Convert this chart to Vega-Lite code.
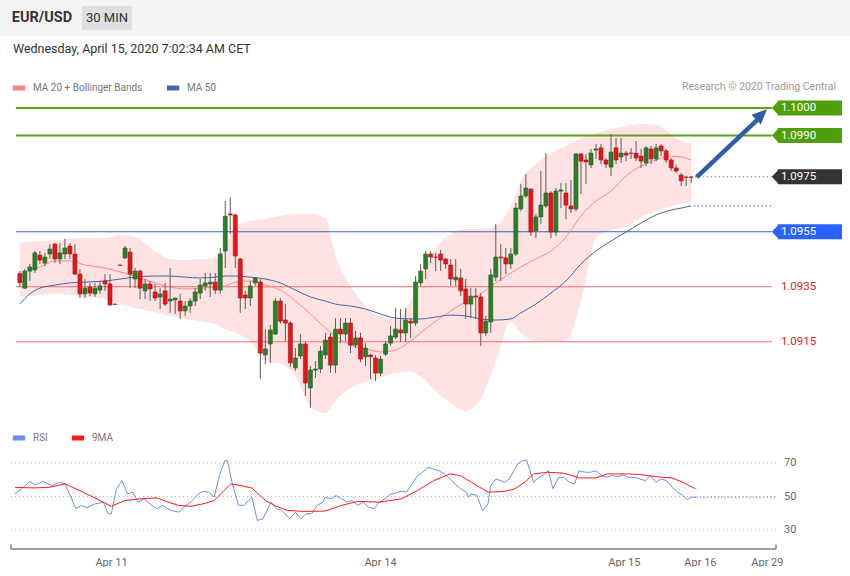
{
"$schema": "https://vega.github.io/schema/vega-lite/v6.json",
"padding": 0,
"autosize": {"type": "pad"},
"background": "#ffffff",
"spacing": 6,
"config": {"font": "Roboto", "view": {"stroke": null}, "title": {"font": "Roboto"}},
"resolve": {"scale": {"color": "independent", "x": "independent", "y": "independent"}, "legend": {"color": "independent"}},
"datasets": {
"candles": [
{"i":0,"o":1.09398,"h":1.09407,"l":1.09349,"c":1.09365},
{"i":1,"o":1.09345,"h":1.09415,"l":1.09342,"c":1.09407},
{"i":2,"o":1.09407,"h":1.09433,"l":1.09371,"c":1.09422},
{"i":3,"o":1.09411,"h":1.0948,"l":1.094,"c":1.09473},
{"i":4,"o":1.09465,"h":1.0948,"l":1.09433,"c":1.09447},
{"i":5,"o":1.09436,"h":1.09473,"l":1.09425,"c":1.09458},
{"i":6,"o":1.09469,"h":1.09505,"l":1.09451,"c":1.09487},
{"i":7,"o":1.09505,"h":1.09509,"l":1.09436,"c":1.09451},
{"i":8,"o":1.09451,"h":1.09509,"l":1.09433,"c":1.09473},
{"i":9,"o":1.09469,"h":1.09524,"l":1.09451,"c":1.09491},
{"i":10,"o":1.09498,"h":1.09509,"l":1.09451,"c":1.09469},
{"i":11,"o":1.09469,"h":1.09505,"l":1.09393,"c":1.09396},
{"i":12,"o":1.09396,"h":1.09415,"l":1.09309,"c":1.09324},
{"i":13,"o":1.09324,"h":1.09378,"l":1.09309,"c":1.09345},
{"i":14,"o":1.09349,"h":1.09364,"l":1.09316,"c":1.09327},
{"i":15,"o":1.09324,"h":1.09364,"l":1.09313,"c":1.09345},
{"i":16,"o":1.09338,"h":1.09371,"l":1.09324,"c":1.09353},
{"i":17,"o":1.09371,"h":1.09396,"l":1.09335,"c":1.0936},
{"i":18,"o":1.0936,"h":1.09396,"l":1.0928,"c":1.09284},
{"i":19,"o":1.09287,"h":1.09288,"l":1.09285,"c":1.09286},
{"i":20,"o":1.09429,"h":1.0943,"l":1.09427,"c":1.09428},
{"i":21,"o":1.09455,"h":1.09498,"l":1.09451,"c":1.09491},
{"i":22,"o":1.09476,"h":1.09491,"l":1.09345,"c":1.09396},
{"i":23,"o":1.09378,"h":1.09418,"l":1.09345,"c":1.09407},
{"i":24,"o":1.09407,"h":1.09411,"l":1.09305,"c":1.09345},
{"i":25,"o":1.09335,"h":1.09378,"l":1.09305,"c":1.0936},
{"i":26,"o":1.0936,"h":1.09371,"l":1.09298,"c":1.09342},
{"i":27,"o":1.09331,"h":1.0936,"l":1.09298,"c":1.09309},
{"i":28,"o":1.09313,"h":1.09345,"l":1.09269,"c":1.09324},
{"i":29,"o":1.09335,"h":1.09364,"l":1.0928,"c":1.09287},
{"i":30,"o":1.09298,"h":1.09418,"l":1.09255,"c":1.09305},
{"i":31,"o":1.09302,"h":1.0931,"l":1.09251,"c":1.09309},
{"i":32,"o":1.09298,"h":1.09324,"l":1.09233,"c":1.09262},
{"i":33,"o":1.09262,"h":1.09298,"l":1.09244,"c":1.0928},
{"i":34,"o":1.0928,"h":1.09309,"l":1.09255,"c":1.09298},
{"i":35,"o":1.09298,"h":1.09345,"l":1.0928,"c":1.09331},
{"i":36,"o":1.09327,"h":1.09378,"l":1.09305,"c":1.09356},
{"i":37,"o":1.09353,"h":1.094,"l":1.09335,"c":1.09364},
{"i":38,"o":1.0936,"h":1.094,"l":1.09313,"c":1.09367},
{"i":39,"o":1.09367,"h":1.094,"l":1.09324,"c":1.09338},
{"i":40,"o":1.09338,"h":1.09491,"l":1.09324,"c":1.09469},
{"i":41,"o":1.0948,"h":1.09662,"l":1.09418,"c":1.09607},
{"i":42,"o":1.09615,"h":1.09676,"l":1.09542,"c":1.09611},
{"i":43,"o":1.09611,"h":1.09615,"l":1.09418,"c":1.09462},
{"i":44,"o":1.09451,"h":1.09455,"l":1.09255,"c":1.09309},
{"i":45,"o":1.0932,"h":1.09335,"l":1.09269,"c":1.09309},
{"i":46,"o":1.09309,"h":1.09371,"l":1.0928,"c":1.09353},
{"i":47,"o":1.09364,"h":1.09385,"l":1.09353,"c":1.09382},
{"i":48,"o":1.09367,"h":1.09378,"l":1.09015,"c":1.09109},
{"i":49,"o":1.09102,"h":1.09196,"l":1.09069,"c":1.09124},
{"i":50,"o":1.09142,"h":1.09211,"l":1.09073,"c":1.09193},
{"i":51,"o":1.09178,"h":1.09309,"l":1.09175,"c":1.09298},
{"i":52,"o":1.09298,"h":1.09309,"l":1.09215,"c":1.09225},
{"i":53,"o":1.09229,"h":1.09287,"l":1.09153,"c":1.09218},
{"i":54,"o":1.09218,"h":1.09225,"l":1.09058,"c":1.09073},
{"i":55,"o":1.09055,"h":1.09127,"l":1.09044,"c":1.09091},
{"i":56,"o":1.09098,"h":1.09178,"l":1.09087,"c":1.09142},
{"i":57,"o":1.09142,"h":1.09149,"l":1.08953,"c":1.09},
{"i":58,"o":1.08982,"h":1.09062,"l":1.08909,"c":1.09047},
{"i":59,"o":1.09047,"h":1.0908,"l":1.09018,"c":1.09051},
{"i":60,"o":1.09051,"h":1.09135,"l":1.09036,"c":1.09116},
{"i":61,"o":1.09102,"h":1.09182,"l":1.09087,"c":1.09156},
{"i":62,"o":1.09167,"h":1.09182,"l":1.09036,"c":1.09065},
{"i":63,"o":1.09065,"h":1.09236,"l":1.09036,"c":1.09196},
{"i":64,"o":1.09196,"h":1.09236,"l":1.09145,"c":1.09178},
{"i":65,"o":1.09178,"h":1.09236,"l":1.09153,"c":1.09218},
{"i":66,"o":1.09218,"h":1.09236,"l":1.09109,"c":1.09138},
{"i":67,"o":1.09138,"h":1.09189,"l":1.09127,"c":1.09164},
{"i":68,"o":1.09164,"h":1.09182,"l":1.09076,"c":1.09087},
{"i":69,"o":1.09095,"h":1.09145,"l":1.09062,"c":1.09127},
{"i":70,"o":1.09102,"h":1.09105,"l":1.09015,"c":1.09095},
{"i":71,"o":1.09091,"h":1.09102,"l":1.09007,"c":1.09036},
{"i":72,"o":1.09036,"h":1.09098,"l":1.09025,"c":1.09087},
{"i":73,"o":1.09105,"h":1.09153,"l":1.09098,"c":1.09142},
{"i":74,"o":1.09145,"h":1.09207,"l":1.09135,"c":1.09171},
{"i":75,"o":1.09167,"h":1.09273,"l":1.0916,"c":1.09196},
{"i":76,"o":1.09193,"h":1.09269,"l":1.09149,"c":1.09182},
{"i":77,"o":1.09182,"h":1.09273,"l":1.09149,"c":1.09229},
{"i":78,"o":1.09225,"h":1.09236,"l":1.09164,"c":1.09218},
{"i":79,"o":1.09218,"h":1.09389,"l":1.09207,"c":1.09367},
{"i":80,"o":1.09364,"h":1.09433,"l":1.09353,"c":1.09407},
{"i":81,"o":1.09415,"h":1.0948,"l":1.09378,"c":1.09469},
{"i":82,"o":1.09469,"h":1.0948,"l":1.09436,"c":1.09458},
{"i":83,"o":1.09458,"h":1.09473,"l":1.09407,"c":1.09457},
{"i":84,"o":1.09469,"h":1.09484,"l":1.09407,"c":1.09447},
{"i":85,"o":1.09451,"h":1.09455,"l":1.09415,"c":1.09433},
{"i":86,"o":1.09429,"h":1.09451,"l":1.09353,"c":1.09378},
{"i":87,"o":1.09375,"h":1.09451,"l":1.09353,"c":1.09385},
{"i":88,"o":1.09382,"h":1.09415,"l":1.09316,"c":1.09335},
{"i":89,"o":1.09342,"h":1.09378,"l":1.09233,"c":1.09287},
{"i":90,"o":1.09287,"h":1.09345,"l":1.09236,"c":1.09316},
{"i":91,"o":1.09316,"h":1.09345,"l":1.09233,"c":1.09313},
{"i":92,"o":1.09313,"h":1.09327,"l":1.09135,"c":1.09182},
{"i":93,"o":1.09182,"h":1.09244,"l":1.09171,"c":1.09225},
{"i":94,"o":1.09222,"h":1.09415,"l":1.09182,"c":1.09393},
{"i":95,"o":1.09385,"h":1.09578,"l":1.09371,"c":1.09458},
{"i":96,"o":1.09458,"h":1.09505,"l":1.09371,"c":1.09455},
{"i":97,"o":1.09455,"h":1.09491,"l":1.09396,"c":1.09433},
{"i":98,"o":1.09433,"h":1.09491,"l":1.09415,"c":1.09469},
{"i":99,"o":1.09469,"h":1.09655,"l":1.09462,"c":1.09636},
{"i":100,"o":1.09633,"h":1.09724,"l":1.09625,"c":1.0968},
{"i":101,"o":1.0968,"h":1.0976,"l":1.09673,"c":1.09709},
{"i":102,"o":1.09705,"h":1.09709,"l":1.09535,"c":1.09549},
{"i":103,"o":1.09553,"h":1.09615,"l":1.09527,"c":1.09604},
{"i":104,"o":1.09604,"h":1.09771,"l":1.09578,"c":1.09647},
{"i":105,"o":1.09644,"h":1.09836,"l":1.09636,"c":1.09691},
{"i":106,"o":1.09691,"h":1.09698,"l":1.09527,"c":1.09549},
{"i":107,"o":1.09549,"h":1.09709,"l":1.09535,"c":1.09698},
{"i":108,"o":1.09698,"h":1.09727,"l":1.09636,"c":1.09702},
{"i":109,"o":1.09691,"h":1.09727,"l":1.09596,"c":1.09647},
{"i":110,"o":1.09644,"h":1.09738,"l":1.09618,"c":1.09633},
{"i":111,"o":1.09633,"h":1.09836,"l":1.09625,"c":1.09833},
{"i":112,"o":1.09833,"h":1.09836,"l":1.09687,"c":1.09807},
{"i":113,"o":1.09811,"h":1.09833,"l":1.09724,"c":1.09804},
{"i":114,"o":1.09793,"h":1.09851,"l":1.09782,"c":1.09836},
{"i":115,"o":1.09847,"h":1.09869,"l":1.09815,"c":1.09851},
{"i":116,"o":1.09855,"h":1.09869,"l":1.09796,"c":1.09811},
{"i":117,"o":1.09811,"h":1.09818,"l":1.09782,"c":1.09796},
{"i":118,"o":1.09785,"h":1.09905,"l":1.09753,"c":1.0984},
{"i":119,"o":1.09855,"h":1.09891,"l":1.09796,"c":1.09811},
{"i":120,"o":1.09822,"h":1.09891,"l":1.098,"c":1.09836},
{"i":121,"o":1.09836,"h":1.09844,"l":1.09807,"c":1.09829},
{"i":122,"o":1.09836,"h":1.09855,"l":1.09815,"c":1.09835},
{"i":123,"o":1.09836,"h":1.0988,"l":1.09807,"c":1.09818},
{"i":124,"o":1.09825,"h":1.09851,"l":1.09782,"c":1.09807},
{"i":125,"o":1.098,"h":1.09862,"l":1.09789,"c":1.09855},
{"i":126,"o":1.09851,"h":1.09862,"l":1.09796,"c":1.09815},
{"i":127,"o":1.09815,"h":1.09869,"l":1.09807,"c":1.09855},
{"i":128,"o":1.09862,"h":1.09869,"l":1.09825,"c":1.09844},
{"i":129,"o":1.09844,"h":1.09851,"l":1.098,"c":1.09811},
{"i":130,"o":1.09811,"h":1.09818,"l":1.09771,"c":1.09782},
{"i":131,"o":1.09782,"h":1.09793,"l":1.09764,"c":1.09771},
{"i":132,"o":1.09756,"h":1.09764,"l":1.09716,"c":1.09735},
{"i":133,"o":1.09749,"h":1.09753,"l":1.09716,"c":1.09748},
{"i":134,"o":1.09749,"h":1.09753,"l":1.09727,"c":1.09748}
],
"ind": [
{"i":0,"bbu":1.09509,"bbl":1.09316,"ma20":null,"ma50":1.09287},
{"i":2,"bbu":1.09513,"bbl":1.09316,"ma20":1.09415,"ma50":1.09324},
{"i":4,"bbu":1.09516,"bbl":1.0932,"ma20":1.09422,"ma50":1.09345},
{"i":7,"bbu":1.0952,"bbl":1.09324,"ma20":1.09444,"ma50":1.09356},
{"i":10,"bbu":1.09524,"bbl":1.0932,"ma20":1.09444,"ma50":1.09364},
{"i":13,"bbu":1.09527,"bbl":1.09313,"ma20":1.09429,"ma50":1.09367},
{"i":17,"bbu":1.09527,"bbl":1.09305,"ma20":1.09418,"ma50":1.09371},
{"i":20,"bbu":1.09538,"bbl":1.09287,"ma20":1.09404,"ma50":1.09378},
{"i":23,"bbu":1.09531,"bbl":1.09273,"ma20":1.09389,"ma50":1.09385},
{"i":27,"bbu":1.0948,"bbl":1.09258,"ma20":1.09364,"ma50":1.09389},
{"i":30,"bbu":1.09451,"bbl":1.09244,"ma20":1.09349,"ma50":1.09389},
{"i":33,"bbu":1.09447,"bbl":1.09233,"ma20":1.09342,"ma50":1.09385},
{"i":36,"bbu":1.09451,"bbl":1.09225,"ma20":1.09345,"ma50":1.09382},
{"i":39,"bbu":1.09455,"bbl":1.09215,"ma20":1.09349,"ma50":1.09385},
{"i":41,"bbu":1.09498,"bbl":1.09196,"ma20":1.09353,"ma50":1.09389},
{"i":43,"bbu":1.09571,"bbl":1.09182,"ma20":1.09367,"ma50":1.09389},
{"i":46,"bbu":1.09589,"bbl":1.09153,"ma20":1.09371,"ma50":1.09385},
{"i":49,"bbu":1.09596,"bbl":1.0908,"ma20":1.09356,"ma50":1.09378},
{"i":52,"bbu":1.09607,"bbl":1.09069,"ma20":1.09338,"ma50":1.09364},
{"i":55,"bbu":1.09615,"bbl":1.09025,"ma20":1.09298,"ma50":1.09338},
{"i":58,"bbu":1.09615,"bbl":1.08916,"ma20":1.09251,"ma50":1.09313},
{"i":61,"bbu":1.096,"bbl":1.08891,"ma20":1.092,"ma50":1.09298},
{"i":63,"bbu":1.09462,"bbl":1.08935,"ma20":1.09171,"ma50":1.09287},
{"i":66,"bbu":1.09353,"bbl":1.08982,"ma20":1.09138,"ma50":1.0928},
{"i":69,"bbu":1.0928,"bbl":1.09004,"ma20":1.09124,"ma50":1.09269},
{"i":72,"bbu":1.0924,"bbl":1.09018,"ma20":1.09113,"ma50":1.09251},
{"i":75,"bbu":1.09233,"bbl":1.09036,"ma20":1.0912,"ma50":1.09236},
{"i":78,"bbu":1.09298,"bbl":1.0904,"ma20":1.09153,"ma50":1.09233},
{"i":80,"bbu":1.09389,"bbl":1.09025,"ma20":1.09182,"ma50":1.09233},
{"i":83,"bbu":1.09491,"bbl":1.08971,"ma20":1.09225,"ma50":1.0924},
{"i":86,"bbu":1.09542,"bbl":1.08927,"ma20":1.09262,"ma50":1.09247},
{"i":89,"bbu":1.0956,"bbl":1.08898,"ma20":1.09295,"ma50":1.09244},
{"i":92,"bbu":1.0956,"bbl":1.08942,"ma20":1.09324,"ma50":1.09233},
{"i":95,"bbu":1.09571,"bbl":1.0908,"ma20":1.09364,"ma50":1.09229},
{"i":98,"bbu":1.09644,"bbl":1.09222,"ma20":1.094,"ma50":1.09233},
{"i":100,"bbu":1.09735,"bbl":1.09182,"ma20":1.09422,"ma50":1.09255},
{"i":103,"bbu":1.09796,"bbl":1.09153,"ma20":1.09451,"ma50":1.09287},
{"i":106,"bbu":1.09836,"bbl":1.09153,"ma20":1.0948,"ma50":1.09327},
{"i":109,"bbu":1.09862,"bbl":1.09153,"ma20":1.09531,"ma50":1.09371},
{"i":112,"bbu":1.09891,"bbl":1.09298,"ma20":1.09607,"ma50":1.09433},
{"i":115,"bbu":1.09909,"bbl":1.09527,"ma20":1.09662,"ma50":1.0948},
{"i":118,"bbu":1.09924,"bbl":1.09556,"ma20":1.09698,"ma50":1.09516},
{"i":121,"bbu":1.09935,"bbl":1.09567,"ma20":1.09753,"ma50":1.09549},
{"i":124,"bbu":1.09942,"bbl":1.09604,"ma20":1.09789,"ma50":1.09582},
{"i":127,"bbu":1.09938,"bbl":1.09625,"ma20":1.09811,"ma50":1.09611},
{"i":130,"bbu":1.09905,"bbl":1.09644,"ma20":1.09825,"ma50":1.09629},
{"i":132,"bbu":1.0988,"bbl":1.09651,"ma20":1.09822,"ma50":1.09636},
{"i":134,"bbu":1.09873,"bbl":1.09662,"ma20":1.09811,"ma50":1.09644}
],
"levels": [
{"level":1.1,"label":"1.1000","kind":"target"},
{"level":1.099,"label":"1.0990","kind":"target"},
{"level":1.0975,"label":"1.0975","kind":"last"},
{"level":1.0955,"label":"1.0955","kind":"pivot"},
{"level":1.0935,"label":"1.0935","kind":"support"},
{"level":1.0915,"label":"1.0915","kind":"support"}
],
"arrow": [{"i":135.1,"v":1.09749},{"i":147.3,"v":1.09959}],
"rsigrid": [{"v":30,"label":"30"},{"v":50,"label":"50"},{"v":70,"label":"70"}],
"rsi": [
{"i":0,"v":51.6,"s":"RSI"},{"i":1.3,"v":54.6,"s":"RSI"},{"i":2.9,"v":58.9,"s":"RSI"},{"i":4,"v":56.9,"s":"RSI"},{"i":5.6,"v":59.1,"s":"RSI"},{"i":7.2,"v":56.5,"s":"RSI"},{"i":8.8,"v":58.5,"s":"RSI"},{"i":9.9,"v":57.5,"s":"RSI"},{"i":12,"v":42.7,"s":"RSI"},{"i":13.1,"v":44.7,"s":"RSI"},{"i":14.1,"v":43.3,"s":"RSI"},{"i":15.8,"v":45.6,"s":"RSI"},{"i":17.4,"v":46.6,"s":"RSI"},{"i":18.4,"v":39.7,"s":"RSI"},{"i":19,"v":39.7,"s":"RSI"},{"i":20,"v":54.6,"s":"RSI"},{"i":21.1,"v":59.5,"s":"RSI"},{"i":22.2,"v":51.6,"s":"RSI"},{"i":23.2,"v":52.6,"s":"RSI"},{"i":24.3,"v":46.6,"s":"RSI"},{"i":25.4,"v":48.6,"s":"RSI"},{"i":27,"v":44.7,"s":"RSI"},{"i":28,"v":42.7,"s":"RSI"},{"i":29.1,"v":44.7,"s":"RSI"},{"i":30.7,"v":41.7,"s":"RSI"},{"i":32.3,"v":40.7,"s":"RSI"},{"i":33.4,"v":43.7,"s":"RSI"},{"i":35,"v":47.6,"s":"RSI"},{"i":36.1,"v":51.6,"s":"RSI"},{"i":37.1,"v":53,"s":"RSI"},{"i":38.2,"v":52.6,"s":"RSI"},{"i":39.3,"v":49.6,"s":"RSI"},{"i":40.3,"v":62.5,"s":"RSI"},{"i":41.4,"v":71.4,"s":"RSI"},{"i":41.9,"v":71.4,"s":"RSI"},{"i":42.8,"v":58.5,"s":"RSI"},{"i":44.1,"v":44.7,"s":"RSI"},{"i":45.1,"v":44.7,"s":"RSI"},{"i":46.7,"v":49.6,"s":"RSI"},{"i":47.8,"v":35.7,"s":"RSI"},{"i":48.9,"v":36.7,"s":"RSI"},{"i":50.5,"v":46.6,"s":"RSI"},{"i":51.6,"v":42.7,"s":"RSI"},{"i":52.6,"v":41.7,"s":"RSI"},{"i":54.2,"v":36.7,"s":"RSI"},{"i":55.3,"v":40.7,"s":"RSI"},{"i":56.4,"v":36.7,"s":"RSI"},{"i":57.4,"v":39.7,"s":"RSI"},{"i":58.5,"v":39.7,"s":"RSI"},{"i":59.6,"v":44.7,"s":"RSI"},{"i":60.7,"v":46.6,"s":"RSI"},{"i":61.2,"v":49.6,"s":"RSI"},{"i":62.3,"v":48.6,"s":"RSI"},{"i":63.3,"v":50.6,"s":"RSI"},{"i":64.4,"v":48.6,"s":"RSI"},{"i":65.5,"v":46.6,"s":"RSI"},{"i":66.5,"v":47.6,"s":"RSI"},{"i":67.6,"v":44.7,"s":"RSI"},{"i":68.7,"v":46.6,"s":"RSI"},{"i":69.7,"v":43.7,"s":"RSI"},{"i":70.8,"v":42.7,"s":"RSI"},{"i":71.9,"v":46.6,"s":"RSI"},{"i":72.9,"v":48.6,"s":"RSI"},{"i":74,"v":51.2,"s":"RSI"},{"i":75.1,"v":52,"s":"RSI"},{"i":76.2,"v":53.2,"s":"RSI"},{"i":77.2,"v":52.6,"s":"RSI"},{"i":78.3,"v":57.5,"s":"RSI"},{"i":79.4,"v":62.5,"s":"RSI"},{"i":80.4,"v":64.5,"s":"RSI"},{"i":81.5,"v":67.4,"s":"RSI"},{"i":82.6,"v":66.4,"s":"RSI"},{"i":83.6,"v":65.4,"s":"RSI"},{"i":84.7,"v":63.5,"s":"RSI"},{"i":85.8,"v":60.5,"s":"RSI"},{"i":86.8,"v":57.5,"s":"RSI"},{"i":87.9,"v":54.6,"s":"RSI"},{"i":89,"v":52.6,"s":"RSI"},{"i":89.5,"v":49.6,"s":"RSI"},{"i":90,"v":51.6,"s":"RSI"},{"i":91.1,"v":50.6,"s":"RSI"},{"i":92.2,"v":41.7,"s":"RSI"},{"i":93.3,"v":45.6,"s":"RSI"},{"i":93.8,"v":56.5,"s":"RSI"},{"i":94.9,"v":60.5,"s":"RSI"},{"i":96.5,"v":58.5,"s":"RSI"},{"i":97.5,"v":60.5,"s":"RSI"},{"i":99.1,"v":69.4,"s":"RSI"},{"i":100.2,"v":71.4,"s":"RSI"},{"i":100.9,"v":71.8,"s":"RSI"},{"i":102.3,"v":58.5,"s":"RSI"},{"i":103.4,"v":61.5,"s":"RSI"},{"i":104.5,"v":63.5,"s":"RSI"},{"i":105.2,"v":65.4,"s":"RSI"},{"i":106.1,"v":54.6,"s":"RSI"},{"i":107.2,"v":61.5,"s":"RSI"},{"i":108.2,"v":61.5,"s":"RSI"},{"i":109.3,"v":58.5,"s":"RSI"},{"i":110.4,"v":57.5,"s":"RSI"},{"i":111.2,"v":65.4,"s":"RSI"},{"i":112.5,"v":64.5,"s":"RSI"},{"i":113.6,"v":64.5,"s":"RSI"},{"i":114.6,"v":65.4,"s":"RSI"},{"i":115.7,"v":62.5,"s":"RSI"},{"i":116.8,"v":61.5,"s":"RSI"},{"i":117.8,"v":62.5,"s":"RSI"},{"i":118.9,"v":61.9,"s":"RSI"},{"i":120,"v":62.9,"s":"RSI"},{"i":121,"v":61.5,"s":"RSI"},{"i":122.1,"v":61.5,"s":"RSI"},{"i":123.2,"v":60.5,"s":"RSI"},{"i":124.3,"v":59.5,"s":"RSI"},{"i":125.3,"v":62.5,"s":"RSI"},{"i":126.4,"v":58.5,"s":"RSI"},{"i":127.5,"v":60.5,"s":"RSI"},{"i":128.5,"v":59.5,"s":"RSI"},{"i":129.6,"v":55.5,"s":"RSI"},{"i":130.7,"v":52.6,"s":"RSI"},{"i":131.7,"v":50.6,"s":"RSI"},{"i":132.6,"v":48.2,"s":"RSI"},{"i":133.4,"v":49.6,"s":"RSI"},{"i":134.4,"v":49.6,"s":"RSI"},
{"i":0,"v":55.5,"s":"9MA"},{"i":3.5,"v":55.1,"s":"9MA"},{"i":6.7,"v":55.5,"s":"9MA"},{"i":9.9,"v":57.5,"s":"9MA"},{"i":12,"v":54.6,"s":"9MA"},{"i":15.2,"v":50,"s":"9MA"},{"i":19,"v":44.1,"s":"9MA"},{"i":21.6,"v":47.6,"s":"9MA"},{"i":24.8,"v":48.6,"s":"9MA"},{"i":28,"v":49.2,"s":"9MA"},{"i":30.2,"v":46.6,"s":"9MA"},{"i":32.3,"v":44.7,"s":"9MA"},{"i":34.5,"v":44.1,"s":"9MA"},{"i":37.1,"v":45.6,"s":"9MA"},{"i":39.3,"v":47.6,"s":"9MA"},{"i":42.5,"v":57.5,"s":"9MA"},{"i":44.6,"v":56.5,"s":"9MA"},{"i":46.7,"v":55.1,"s":"9MA"},{"i":49.4,"v":47.6,"s":"9MA"},{"i":51.6,"v":44.1,"s":"9MA"},{"i":53.7,"v":41.7,"s":"9MA"},{"i":56.9,"v":41.1,"s":"9MA"},{"i":61.2,"v":41.3,"s":"9MA"},{"i":64.4,"v":44.7,"s":"9MA"},{"i":67.6,"v":47.1,"s":"9MA"},{"i":71.9,"v":46.6,"s":"9MA"},{"i":76.2,"v":48.6,"s":"9MA"},{"i":79.4,"v":53.6,"s":"9MA"},{"i":82.6,"v":59.5,"s":"9MA"},{"i":85.8,"v":63.5,"s":"9MA"},{"i":87.9,"v":62.5,"s":"9MA"},{"i":90,"v":58.5,"s":"9MA"},{"i":93.3,"v":52.6,"s":"9MA"},{"i":96.5,"v":53,"s":"9MA"},{"i":98.6,"v":54.6,"s":"9MA"},{"i":100.7,"v":58.9,"s":"9MA"},{"i":102.3,"v":63.5,"s":"9MA"},{"i":105,"v":64.5,"s":"9MA"},{"i":108.2,"v":63.9,"s":"9MA"},{"i":111.4,"v":61.1,"s":"9MA"},{"i":114.6,"v":61.1,"s":"9MA"},{"i":116.8,"v":63.5,"s":"9MA"},{"i":121,"v":63.5,"s":"9MA"},{"i":123.2,"v":63.1,"s":"9MA"},{"i":127.5,"v":61.5,"s":"9MA"},{"i":129.6,"v":61.1,"s":"9MA"},{"i":131.7,"v":58.5,"s":"9MA"},{"i":134.2,"v":54.6,"s":"9MA"}
]
},
"vconcat": [
{
"width": 850, "height": 36,
"view": {"fill": "#f4f4f4", "stroke": null},
"data": {"values": [{"label": "EUR/USD", "role": "symbol"}, {"label": "30 MIN", "role": "interval"}]},
"encoding": {"x": {"field": "role", "type": "nominal", "scale": {"type": "point", "domain": ["symbol", "interval"], "range": [42, 107], "padding": 0}, "axis": null}},
"layer": [
{"transform": [{"filter": "datum.role === 'interval'"}],
 "mark": {"type": "point", "shape": "M-1,-0.48H1V0.48H-1Z", "size": 2500, "filled": true, "color": "#dcdfe3", "opacity": 1, "strokeWidth": 0}},
{"transform": [{"filter": "datum.role === 'symbol'"}],
 "mark": {"type": "text", "color": "#333333", "baseline": "middle", "fontWeight": "bold", "fontSize": 14.5},
 "encoding": {"text": {"field": "label"}}},
{"transform": [{"filter": "datum.role === 'interval'"}],
 "mark": {"type": "text", "color": "#333333", "baseline": "middle", "fontWeight": "normal", "fontSize": 13},
 "encoding": {"text": {"field": "label"}}}
]
},
{
"width": 847, "height": 337,
"title": {"text": "Wednesday, April 15, 2020 7:02:34 AM CET", "anchor": "start", "frame": "group", "dx": 13, "offset": 24, "fontSize": 12.5, "fontWeight": "normal", "color": "#333333"},
"layer": [
{"data": {"name": "ind"}, "mark": {"type": "area", "color": "#ffe3e3", "opacity": 1, "interpolate": "monotone"},
 "encoding": {"x": {"field": "i", "type": "quantitative", "scale": {"domain": [-2.96, 164.1], "nice": false, "zero": false}, "axis": null},
  "y": {"field": "bbu", "type": "quantitative", "scale": {"domain": [1.0888, 1.101055], "nice": false, "zero": false}, "axis": null},
  "y2": {"field": "bbl"}}},
{"data": {"name": "levels"}, "transform": [{"filter": "datum.kind !== 'last'"}],
 "mark": {"type": "rule"},
 "encoding": {"x": {"datum": -0.79, "type": "quantitative", "axis": null}, "x2": {"datum": 150.1},
  "y": {"field": "level", "type": "quantitative", "axis": null},
  "color": {"condition": [{"test": "datum.kind === 'target'", "value": "#5ba31c"}, {"test": "datum.kind === 'pivot'", "value": "#3a5bd0"}], "value": "#f27070"},
  "strokeWidth": {"condition": {"test": "datum.kind === 'target'", "value": 2}, "value": 1}}},
{"data": {"name": "ind"}, "mark": {"type": "line", "strokeWidth": 1, "interpolate": "monotone"},
 "encoding": {"x": {"field": "i", "type": "quantitative", "axis": null}, "y": {"field": "ma20", "type": "quantitative", "axis": null},
  "color": {"datum": "MA 20 + Bollinger Bands", "type": "nominal",
   "scale": {"domain": ["MA 20 + Bollinger Bands", "MA 50"], "range": ["#ff8585", "#4463a3"]},
   "legend": {"orient": "none", "legendX": 10, "legendY": 0, "direction": "horizontal", "title": null, "symbolType": "stroke", "symbolStrokeWidth": 5, "symbolSize": 150, "labelFontSize": 10, "labelColor": "#777777", "columnPadding": 13, "labelOffset": 5, "padding": 0}}}},
{"data": {"name": "ind"}, "mark": {"type": "line", "strokeWidth": 1, "interpolate": "monotone"},
 "encoding": {"x": {"field": "i", "type": "quantitative", "axis": null}, "y": {"field": "ma50", "type": "quantitative", "axis": null},
  "color": {"datum": "MA 50", "type": "nominal"}}},
{"data": {"name": "candles"}, "mark": {"type": "rule", "color": "#5a5a5a", "strokeWidth": 1},
 "encoding": {"x": {"field": "i", "type": "quantitative", "axis": null}, "y": {"field": "l", "type": "quantitative", "axis": null}, "y2": {"field": "h"}}},
{"data": {"name": "candles"}, "mark": {"type": "bar", "size": 4, "strokeWidth": 0.6},
 "encoding": {"x": {"field": "i", "type": "quantitative", "axis": null}, "y": {"field": "o", "type": "quantitative", "axis": null}, "y2": {"field": "c"},
  "fill": {"condition": {"test": "datum.c < datum.o", "value": "#e8141b"}, "value": "#2a7f2a"},
  "stroke": {"condition": {"test": "datum.c < datum.o", "value": "#a51212"}, "value": "#1f5e1f"}}},
{"data": {"name": "levels"}, "transform": [{"filter": "datum.kind === 'last'"}],
 "mark": {"type": "rule", "color": "#888888", "strokeDash": [1.5, 2.5], "strokeWidth": 1},
 "encoding": {"x": {"datum": 134.7, "type": "quantitative", "axis": null}, "x2": {"datum": 150.1}, "y": {"field": "level", "type": "quantitative", "axis": null}}},
{"data": {"values": [{"series": "MA 50 projection"}]},
 "mark": {"type": "rule", "color": "#4463a3", "strokeDash": [1.5, 2.5], "strokeWidth": 1},
 "encoding": {"x": {"datum": 134.5, "type": "quantitative", "axis": null}, "x2": {"datum": 150.1}, "y": {"datum": 1.09644, "type": "quantitative", "axis": null}}},
{"data": {"name": "levels"}, "transform": [{"filter": "datum.kind !== 'support'"}],
 "mark": {"type": "rect", "yOffset": -7.5, "y2Offset": 7.5},
 "encoding": {"x": {"datum": 151.3, "type": "quantitative", "axis": null}, "x2": {"datum": 164.1},
  "y": {"field": "level", "type": "quantitative", "axis": null}, "y2": {"field": "level"},
  "fill": {"condition": [{"test": "datum.kind === 'target'", "value": "#4f9e0a"}, {"test": "datum.kind === 'last'", "value": "#333333"}], "value": "#2962ff"}}},
{"data": {"name": "levels"}, "transform": [{"filter": "datum.kind !== 'support'"}],
 "mark": {"type": "point", "shape": "M-0.47,0L0.47,-1L0.47,1Z", "size": 225, "filled": true, "opacity": 1, "strokeWidth": 0},
 "encoding": {"x": {"datum": 150.8, "type": "quantitative", "axis": null},
  "y": {"field": "level", "type": "quantitative", "axis": null},
  "fill": {"condition": [{"test": "datum.kind === 'target'", "value": "#4f9e0a"}, {"test": "datum.kind === 'last'", "value": "#333333"}], "value": "#2962ff"}}},
{"data": {"name": "levels"},
 "mark": {"type": "text", "align": "left", "baseline": "middle", "fontSize": 11.5},
 "encoding": {"x": {"datum": 151.9, "type": "quantitative", "axis": null},
  "y": {"field": "level", "type": "quantitative", "axis": null},
  "text": {"field": "label"},
  "color": {"condition": {"test": "datum.kind === 'support'", "value": "#e02424"}, "value": "#ffffff"}}},
{"data": {"name": "arrow"}, "mark": {"type": "line", "color": "#2e5ea5", "strokeWidth": 4.5, "strokeCap": "butt"},
 "encoding": {"x": {"field": "i", "type": "quantitative", "axis": null}, "y": {"field": "v", "type": "quantitative", "axis": null}}},
{"data": {"values": [{"part": "arrowhead"}]},
 "mark": {"type": "point", "shape": "M0,-1L0.9,1L-0.9,1Z", "size": 225, "angle": 46, "filled": true, "color": "#2e5ea5", "opacity": 1, "strokeWidth": 0},
 "encoding": {"x": {"datum": 148.05, "type": "quantitative", "axis": null}, "y": {"datum": 1.09977, "type": "quantitative", "axis": null}}},
{"data": {"values": [{"text": "Research © 2020 Trading Central"}]},
 "mark": {"type": "text", "align": "right", "baseline": "middle", "fontSize": 10.5, "color": "#999999"},
 "encoding": {"x": {"datum": 162.9, "type": "quantitative", "axis": null}, "y": {"datum": 1.10076, "type": "quantitative", "axis": null}, "text": {"field": "text"}}}
]
},
{
"width": 776, "height": 127,
"layer": [
{"data": {"name": "rsigrid"}, "mark": {"type": "rule", "color": "#b5b5b5", "strokeDash": [1, 3], "strokeWidth": 1},
 "encoding": {"x": {"datum": -0.79, "type": "quantitative", "scale": {"domain": [-2.96, 150.1], "nice": false, "zero": false},
   "axis": {"values": [18.93, 72, 120.1, 135.1, 148.3], "labelExpr": "datum.value < 30 ? 'Apr 11' : datum.value < 100 ? 'Apr 14' : datum.value < 125 ? 'Apr 15' : datum.value < 140 ? 'Apr 16' : 'Apr 29'", "domain": false, "ticks": false, "grid": false, "labelPadding": 7, "labelColor": "#666666", "labelFontSize": 11, "title": null, "labelOverlap": false, "labelFlush": false}},
  "x2": {"datum": 150.1},
  "y": {"field": "v", "type": "quantitative", "scale": {"domain": [18.66, 94.48], "nice": false, "zero": false}, "axis": null}}},
{"data": {"name": "rsigrid"}, "mark": {"type": "text", "align": "left", "baseline": "middle", "fontSize": 11, "color": "#666666"},
 "encoding": {"x": {"datum": 151.7, "type": "quantitative",
   "axis": {"values": [18.93, 72, 120.1, 135.1, 148.3], "labelExpr": "datum.value < 30 ? 'Apr 11' : datum.value < 100 ? 'Apr 14' : datum.value < 125 ? 'Apr 15' : datum.value < 140 ? 'Apr 16' : 'Apr 29'", "domain": false, "ticks": false, "grid": false, "labelPadding": 7, "labelColor": "#666666", "labelFontSize": 11, "title": null, "labelOverlap": false, "labelFlush": false}},
  "y": {"field": "v", "type": "quantitative", "axis": null},
  "text": {"field": "label"}}},
{"data": {"name": "rsi"}, "mark": {"type": "line", "strokeWidth": 1},
 "encoding": {"x": {"field": "i", "type": "quantitative",
   "axis": {"values": [18.93, 72, 120.1, 135.1, 148.3], "labelExpr": "datum.value < 30 ? 'Apr 11' : datum.value < 100 ? 'Apr 14' : datum.value < 125 ? 'Apr 15' : datum.value < 140 ? 'Apr 16' : 'Apr 29'", "domain": false, "ticks": false, "grid": false, "labelPadding": 7, "labelColor": "#666666", "labelFontSize": 11, "title": null, "labelOverlap": false, "labelFlush": false}},
  "y": {"field": "v", "type": "quantitative", "axis": null},
  "color": {"field": "s", "type": "nominal", "scale": {"domain": ["RSI", "9MA"], "range": ["#6d8ee6", "#ff1a1a"]},
   "legend": {"orient": "none", "legendX": 10, "legendY": 7, "direction": "horizontal", "title": null, "symbolType": "stroke", "symbolStrokeWidth": 5, "symbolSize": 150, "labelFontSize": 10, "labelColor": "#777777", "columnPadding": 13, "labelOffset": 5, "padding": 0}}}},
{"data": {"values": [{"series": "RSI projection"}]},
 "mark": {"type": "rule", "color": "#6d8ee6", "strokeDash": [1.5, 2], "strokeWidth": 1},
 "encoding": {"x": {"datum": 134.4, "type": "quantitative",
   "axis": {"values": [18.93, 72, 120.1, 135.1, 148.3], "labelExpr": "datum.value < 30 ? 'Apr 11' : datum.value < 100 ? 'Apr 14' : datum.value < 125 ? 'Apr 15' : datum.value < 140 ? 'Apr 16' : 'Apr 29'", "domain": false, "ticks": false, "grid": false, "labelPadding": 7, "labelColor": "#666666", "labelFontSize": 11, "title": null, "labelOverlap": false, "labelFlush": false}},
  "x2": {"datum": 150.1},
  "y": {"datum": 49.6, "type": "quantitative", "axis": null}}},
{"data": {"values": [{"series": "baseline"}]},
 "mark": {"type": "rule", "color": "#9e9e9e", "strokeWidth": 2},
 "encoding": {"x": {"datum": -0.79, "type": "quantitative",
   "axis": {"values": [18.93, 72, 120.1, 135.1, 148.3], "labelExpr": "datum.value < 30 ? 'Apr 11' : datum.value < 100 ? 'Apr 14' : datum.value < 125 ? 'Apr 15' : datum.value < 140 ? 'Apr 16' : 'Apr 29'", "domain": false, "ticks": false, "grid": false, "labelPadding": 7, "labelColor": "#666666", "labelFontSize": 11, "title": null, "labelOverlap": false, "labelFlush": false}},
  "x2": {"datum": 150.1},
  "y": {"datum": 18.66, "type": "quantitative", "axis": null}}},
{"data": {"values": [{"series": "tick"}]},
 "mark": {"type": "rule", "color": "#9e9e9e", "strokeWidth": 2},
 "encoding": {"x": {"datum": -0.79, "type": "quantitative",
   "axis": {"values": [18.93, 72, 120.1, 135.1, 148.3], "labelExpr": "datum.value < 30 ? 'Apr 11' : datum.value < 100 ? 'Apr 14' : datum.value < 125 ? 'Apr 15' : datum.value < 140 ? 'Apr 16' : 'Apr 29'", "domain": false, "ticks": false, "grid": false, "labelPadding": 7, "labelColor": "#666666", "labelFontSize": 11, "title": null, "labelOverlap": false, "labelFlush": false}},
  "y": {"datum": 18.66, "type": "quantitative", "axis": null},
  "y2": {"datum": 21.3}}},
{"data": {"values": [{"series": "tick"}]},
 "mark": {"type": "rule", "color": "#9e9e9e", "strokeWidth": 2},
 "encoding": {"x": {"datum": 150.1, "type": "quantitative",
   "axis": {"values": [18.93, 72, 120.1, 135.1, 148.3], "labelExpr": "datum.value < 30 ? 'Apr 11' : datum.value < 100 ? 'Apr 14' : datum.value < 125 ? 'Apr 15' : datum.value < 140 ? 'Apr 16' : 'Apr 29'", "domain": false, "ticks": false, "grid": false, "labelPadding": 7, "labelColor": "#666666", "labelFontSize": 11, "title": null, "labelOverlap": false, "labelFlush": false}},
  "y": {"datum": 18.66, "type": "quantitative", "axis": null},
  "y2": {"datum": 21.3}}}
]
}
]
}
